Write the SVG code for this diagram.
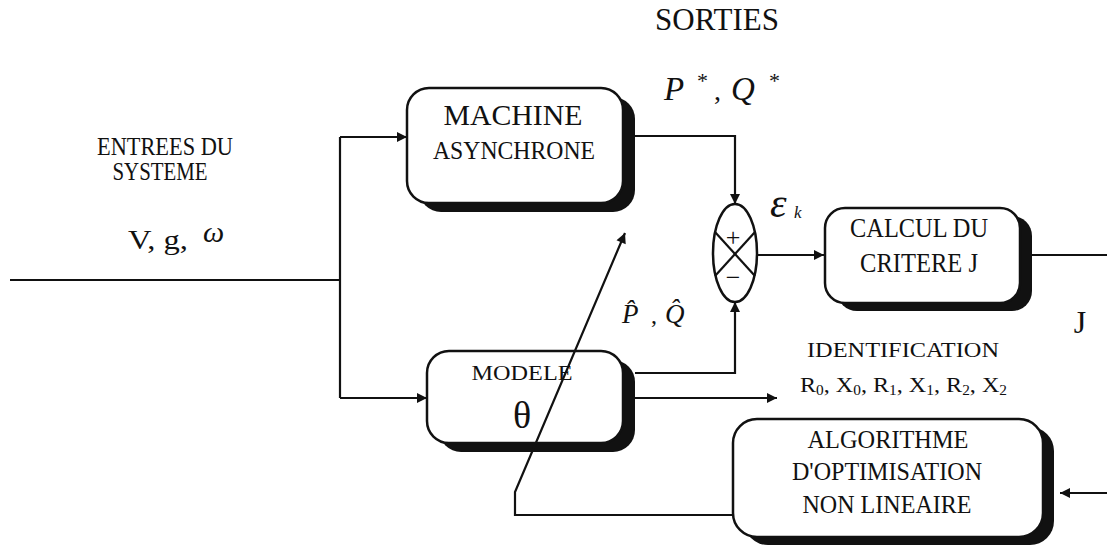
<svg xmlns="http://www.w3.org/2000/svg" width="1107" height="548" viewBox="0 0 1107 548">
<defs>
<style>
text{font-family:"Liberation Serif","Times New Roman",serif;fill:#111;}
.box{fill:#fff;stroke:#111;stroke-width:2.5;}
.sh{fill:#111;}
.ln{fill:none;stroke:#111;stroke-width:2.2;}
.c{text-anchor:middle;}
.it{font-style:italic;}
</style>
<marker id="ah" viewBox="0 0 10 10" refX="10" refY="5" markerWidth="11" markerHeight="10" markerUnits="userSpaceOnUse" orient="auto">
<path d="M0,0 L10,5 L0,10 Z" fill="#111"/>
</marker>
</defs>
<rect width="1107" height="548" fill="#fff"/>

<g id="labels">
<text x="717" y="30" class="c" font-size="31">SORTIES</text>
<text x="165" y="155" class="c" font-size="25" textLength="136" lengthAdjust="spacingAndGlyphs">ENTREES DU</text>
<text x="160" y="180" class="c" font-size="25" textLength="95" lengthAdjust="spacingAndGlyphs">SYSTEME</text>
<text x="128" y="249" font-size="28" textLength="60" lengthAdjust="spacingAndGlyphs">V, g,</text>
<text x="203" y="242" font-size="30" class="it">ω</text>
<text x="664" y="100" font-size="33" class="it">P</text>
<text x="697" y="88" font-size="22">*</text>
<text x="714" y="100" font-size="28">,</text>
<text x="731" y="100" font-size="33" class="it">Q</text>
<text x="769" y="88" font-size="22">*</text>
<text x="622" y="323" font-size="27" class="it">P̂</text>
<text x="651" y="323" font-size="24">,</text>
<text x="665" y="323" font-size="27" class="it">Q̂</text>
<text x="770" y="217" font-size="42" class="it">ε</text>
<text x="794" y="218" font-size="17" class="it">k</text>
<text x="1080" y="333" class="c" font-size="32">J</text>
<text x="903" y="357" class="c" font-size="22" textLength="192" lengthAdjust="spacingAndGlyphs">IDENTIFICATION</text>
<text x="800" y="392" font-size="22" textLength="207" lengthAdjust="spacingAndGlyphs">R<tspan font-size="14" dy="3">0</tspan><tspan dy="-3">, X</tspan><tspan font-size="14" dy="3">0</tspan><tspan dy="-3">, R</tspan><tspan font-size="14" dy="3">1</tspan><tspan dy="-3">, X</tspan><tspan font-size="14" dy="3">1</tspan><tspan dy="-3">, R</tspan><tspan font-size="14" dy="3">2</tspan><tspan dy="-3">, X</tspan><tspan font-size="14" dy="3">2</tspan></text>
</g>

<g id="machine">
<rect class="sh" x="419" y="97" width="216" height="115" rx="22"/>
<rect class="box" x="407" y="88" width="216" height="115" rx="22"/>
<text x="513" y="125" class="c" font-size="30" textLength="139" lengthAdjust="spacingAndGlyphs">MACHINE</text>
<text x="514" y="159" class="c" font-size="26" textLength="162" lengthAdjust="spacingAndGlyphs">ASYNCHRONE</text>
</g>

<g id="modele">
<rect class="sh" x="439" y="360" width="196" height="92" rx="22"/>
<rect class="box" x="427" y="351" width="196" height="92" rx="22"/>
<text x="522" y="380" class="c" font-size="22" textLength="101" lengthAdjust="spacingAndGlyphs">MODELE</text>
<text x="522" y="428" class="c" font-size="38">θ</text>
</g>

<g id="calcul">
<rect class="sh" x="837" y="216" width="195" height="95" rx="20"/>
<rect class="box" x="825" y="208" width="195" height="95" rx="20"/>
<text x="919" y="237" class="c" font-size="27" textLength="138" lengthAdjust="spacingAndGlyphs">CALCUL DU</text>
<text x="919" y="272" class="c" font-size="27" textLength="118" lengthAdjust="spacingAndGlyphs">CRITERE J</text>
</g>

<g id="algorithme">
<rect class="sh" x="744" y="427" width="310" height="118" rx="24"/>
<rect class="box" x="733" y="419" width="310" height="118" rx="24"/>
<text x="888" y="448" class="c" font-size="26" textLength="161" lengthAdjust="spacingAndGlyphs">ALGORITHME</text>
<text x="887" y="480" class="c" font-size="26" textLength="190" lengthAdjust="spacingAndGlyphs">D'OPTIMISATION</text>
<text x="887" y="513" class="c" font-size="26" textLength="169" lengthAdjust="spacingAndGlyphs">NON LINEAIRE</text>
</g>

<g id="sommateur">
<ellipse cx="735" cy="253" rx="22" ry="49" fill="#fff" stroke="#111" stroke-width="2.5"/>
<line class="ln" x1="715" y1="232" x2="755" y2="276"/>
<line class="ln" x1="755" y1="232" x2="715" y2="276"/>
<text x="733" y="246" class="c" font-size="26">+</text>
<text x="733" y="286" class="c" font-size="26">−</text>
</g>

<g id="connectors">
<path class="ln" d="M10,280 H340"/>
<path class="ln" d="M340,137 V398"/>
<path class="ln" d="M340,137 H407" marker-end="url(#ah)"/>
<path class="ln" d="M340,398 H427" marker-end="url(#ah)"/>
<path class="ln" d="M635,136 H735 V204" marker-end="url(#ah)"/>
<path class="ln" d="M635,373 H735 V302" marker-end="url(#ah)"/>
<path class="ln" d="M635,398 H777" marker-end="url(#ah)"/>
<path class="ln" d="M757,255 H824" marker-end="url(#ah)"/>
<path class="ln" d="M1032,255 H1112 V493 H1060" marker-end="url(#ah)"/>
<path class="ln" d="M733,515 H515 V492 L625,233" marker-end="url(#ah)"/>
</g>
</svg>
